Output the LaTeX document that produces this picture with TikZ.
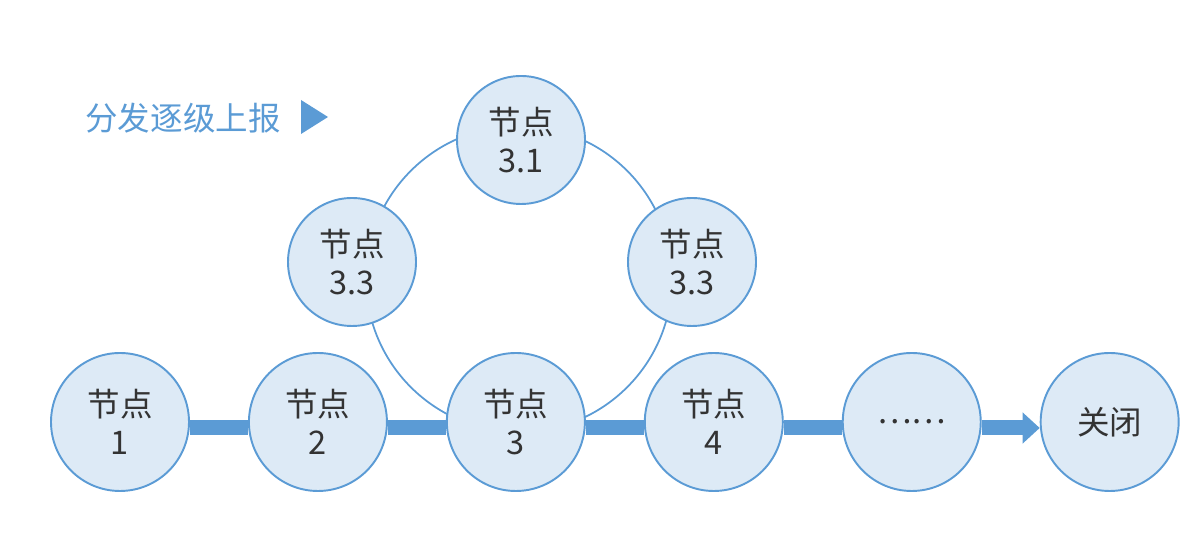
\documentclass[tikz,border=0pt]{standalone}
\usepackage{fontspec}
\setmainfont{Noto Sans CJK SC}
\usepackage{tikz}
\usetikzlibrary{arrows.meta,positioning}
\definecolor{lineblue}{HTML}{5B9BD5}
\definecolor{fillblue}{HTML}{DDEAF6}
\definecolor{textgray}{HTML}{333333}
\tikzset{node circle/.style={
    circle,
    draw=lineblue, fill=fillblue,
    line width=1.1pt,
    minimum size=#1,
    inner sep=0pt,
    align=center,
    text=textgray,
    font=\fontsize{18.5}{21.5}\selectfont
  },
  node circle/.default=2.76cm,
  flow bar/.style={draw=lineblue, line width=0.3cm},
  ring line/.style={draw=lineblue, line width=1pt}
}

\begin{document}
\begin{tikzpicture}
    \useasboundingbox (0,0) rectangle (24,10.78);
    % ring behind the nodes
    \coordinate (ring) at (10.38,5.20);
    \draw[ring line] (ring) circle (3.06cm);
    % main row
    \node[node circle] (n1) at (2.40,2.34) {节点\\1};
    \node[node circle, right=1.16cm of n1] (n2) {节点\\2};
    \node[node circle, right=1.16cm of n2] (n3) {节点\\3};
    \node[node circle, right=1.16cm of n3] (n4) {节点\\4};
    \node[node circle, right=1.16cm of n4] (more) {……};
    \node[node circle, right=1.16cm of more] (close) {关闭};
    % ring nodes
    \node[node circle=2.56cm] (n31) at (10.42,7.98) {节点\\3.1};
    \node[node circle=2.56cm] (n33l) at (7.04,5.54) {节点\\3.3};
    \node[node circle=2.56cm] (n33r) at (13.84,5.54) {节点\\3.3};
    % bars
    \draw[flow bar] ([yshift=-0.12cm]n1.east) -- ([yshift=-0.12cm]n2.west);
    \draw[flow bar] ([yshift=-0.12cm]n2.east) -- ([yshift=-0.12cm]n3.west);
    \draw[flow bar] ([yshift=-0.12cm]n3.east) -- ([yshift=-0.12cm]n4.west);
    \draw[flow bar] ([yshift=-0.12cm]n4.east) -- ([yshift=-0.12cm]more.west);
    \draw[flow bar, -{Triangle[length=0.34cm,width=0.6cm]}] ([yshift=-0.12cm]more.east) -- ([yshift=-0.12cm]close.west);
    % title
    \node[text=lineblue, font=\fontsize{18.5}{22}\selectfont] (title) at (3.66,8.42) {分发逐级上报};
    \fill[lineblue] (6.02,8.78) -- (6.56,8.44) -- (6.02,8.10) -- cycle;
\end{tikzpicture}
\end{document}
